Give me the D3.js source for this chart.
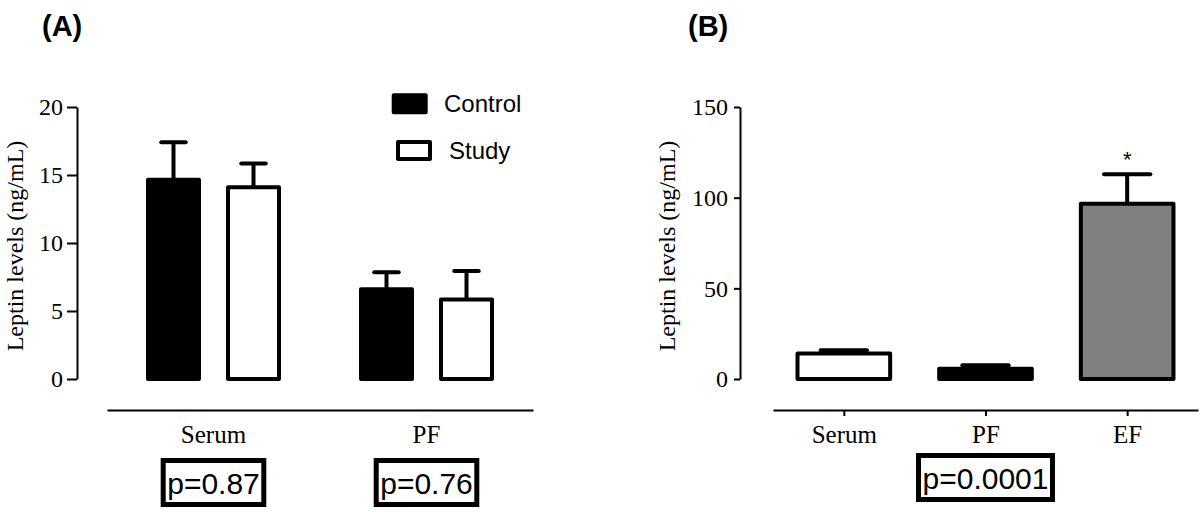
<!DOCTYPE html>
<html>
<head>
<meta charset="utf-8">
<script src="https://cdn.jsdelivr.net/npm/d3@7"></script>
<style>
  html, body { margin: 0; padding: 0; background: #fff; }
  svg { display: block; }
</style>
</head>
<body>
<svg id="chart" width="1200" height="512"></svg>
<script>
// ---------- Data ----------
const groupsA = ["Serum", "PF"];
const seriesA = ["Control", "Study"];
const controlA = [14.65, 6.6];
const studyA = [14.1, 5.85];
const controlErrTopA = [17.4, 7.85];
const studyErrTopA = [15.85, 7.95];
const yTicksA = [0, 5, 10, 15, 20];
const pLabelsA = ["p=0.87", "p=0.76"];

const categoriesB = ["Serum", "PF", "EF"];
const valuesB = [14.0, 5.7, 96.7];
const errTopB = [15.8, 7.6, 112.9];
const yTicksB = [0, 50, 100, 150];
const pLabelB = "p=0.0001";
const starLabelsB = ["", "", "*"];

const panelTitles = ["(A)", "(B)"];
const yTitle = "Leptin levels (ng/mL)";

// ---------- Setup ----------
const svg = d3.select("#chart");
const SERIF = "'Liberation Serif', 'Times New Roman', serif";
const SANS = "'Liberation Sans', Arial, sans-serif";
const seriesFill = d3.scaleOrdinal().domain(seriesA).range(["#000", "#fff"]);
const fillB = d3.scaleOrdinal().domain(categoriesB).range(["#fff", "#000", "#808080"]);

function styleAxis(g, size) {
  g.select(".domain").attr("stroke", "#000").attr("stroke-width", 2);
  g.selectAll(".tick line").attr("stroke", "#000").attr("stroke-width", 2);
  g.selectAll(".tick text").attr("fill", "#000").attr("font-family", SERIF).attr("font-size", size);
}

// ---------- Panel titles ----------
svg.append("text").attr("x", 42).attr("y", 36).text(panelTitles[0])
  .attr("font-family", SANS).attr("font-weight", "bold").attr("font-size", 29);
svg.append("text").attr("x", 688).attr("y", 36).text(panelTitles[1])
  .attr("font-family", SANS).attr("font-weight", "bold").attr("font-size", 29);

// ---------- Panel A ----------
const yA = d3.scaleLinear().domain([0, 20]).range([379, 107]);
const x0A = d3.scaleBand().domain(groupsA).range([107, 533]).padding(0);
const x1A = d3.scaleBand().domain(seriesA).range([-80, 80]).paddingInner(0.3625).paddingOuter(0.18125);

const gA = svg.append("g");
gA.append("g").attr("transform", "translate(77,0)")
  .call(d3.axisLeft(yA).tickValues(yTicksA).tickSize(10).tickPadding(4).tickSizeOuter(0))
  .call(g => styleAxis(g, 24));
gA.append("g").attr("transform", "translate(0,410)")
  .call(d3.axisBottom(x0A).tickSize(0).tickPadding(15))
  .call(g => styleAxis(g, 25));

gA.append("text").attr("transform", "translate(23,246) rotate(-90)")
  .attr("text-anchor", "middle").attr("font-family", SERIF).attr("font-size", 24).text(yTitle);

const barsA = [];
groupsA.forEach((grp, i) => {
  barsA.push({ grp, s: "Control", v: controlA[i], e: controlErrTopA[i] });
  barsA.push({ grp, s: "Study", v: studyA[i], e: studyErrTopA[i] });
});
const bwA = x1A.bandwidth();
barsA.forEach(d => {
  const cx = x0A(d.grp) + x0A.bandwidth() / 2 + x1A(d.s) + bwA / 2;
  const capHalf = bwA * 0.24;
  gA.append("line").attr("x1", cx).attr("x2", cx).attr("y1", yA(d.v)).attr("y2", yA(d.e))
    .attr("stroke", "#000").attr("stroke-width", 4);
  gA.append("line").attr("x1", cx - capHalf).attr("x2", cx + capHalf).attr("y1", yA(d.e)).attr("y2", yA(d.e))
    .attr("stroke", "#000").attr("stroke-width", 4).attr("stroke-linecap", "round");
  gA.append("rect").attr("x", cx - bwA / 2).attr("y", yA(d.v)).attr("width", bwA).attr("height", yA(0) - yA(d.v))
    .attr("fill", seriesFill(d.s)).attr("stroke", "#000").attr("stroke-width", 4).attr("stroke-linejoin", "round");
});

// Legend
const legendA = [
  { s: "Control", rx: 393.7, ry: 95.3, tx: 444, ty: 112 },
  { s: "Study", rx: 398, ry: 142, tx: 449, ty: 159 }
];
legendA.forEach(d => {
  gA.append("rect").attr("x", d.rx).attr("y", d.ry).attr("width", 32).attr("height", 17)
    .attr("fill", seriesFill(d.s)).attr("stroke", "#000").attr("stroke-width", 4).attr("stroke-linejoin", "round");
  gA.append("text").attr("x", d.tx).attr("y", d.ty).text(d.s)
    .attr("font-family", SANS).attr("font-size", 24);
});

// p-value boxes
function pBox(parent, cx, baseline, label) {
  const g = parent.append("g");
  const r = g.append("rect");
  const t = g.append("text").attr("x", cx).attr("y", baseline).attr("text-anchor", "middle")
    .attr("font-family", SANS).attr("font-size", 30).text(label);
  const bb = t.node().getBBox();
  r.attr("x", bb.x - 4).attr("y", baseline - 33).attr("width", bb.width + 8).attr("height", 44)
    .attr("fill", "none").attr("stroke", "#000").attr("stroke-width", 5);
}
groupsA.forEach((grp, i) => {
  pBox(gA, x0A(grp) + x0A.bandwidth() / 2, 493.5, pLabelsA[i]);
});

// ---------- Panel B ----------
const yB = d3.scaleLinear().domain([0, 150]).range([379, 107]);
const xB = d3.scaleBand().domain(categoriesB).range([773, 1198]).paddingInner(0.346).paddingOuter(0.173);

const gB = svg.append("g");
gB.append("g").attr("transform", "translate(740,0)")
  .call(d3.axisLeft(yB).tickValues(yTicksB).tickSize(6).tickPadding(6).tickSizeOuter(0))
  .call(g => styleAxis(g, 24));
gB.append("g").attr("transform", "translate(0,410)")
  .call(d3.axisBottom(d3.scalePoint().domain(categoriesB).range([773, 1198]).padding(0.5)).tickSize(6).tickPadding(9).tickSizeOuter(0))
  .call(g => styleAxis(g, 25));

gB.append("text").attr("transform", "translate(675,246) rotate(-90)")
  .attr("text-anchor", "middle").attr("font-family", SERIF).attr("font-size", 24).text(yTitle);

const bwB = xB.bandwidth();
categoriesB.forEach((c, i) => {
  const cx = xB(c) + bwB / 2;
  const capHalf = bwB * 0.25;
  gB.append("line").attr("x1", cx).attr("x2", cx).attr("y1", yB(valuesB[i])).attr("y2", yB(errTopB[i]))
    .attr("stroke", "#000").attr("stroke-width", 4);
  gB.append("line").attr("x1", cx - capHalf).attr("x2", cx + capHalf).attr("y1", yB(errTopB[i])).attr("y2", yB(errTopB[i]))
    .attr("stroke", "#000").attr("stroke-width", 4).attr("stroke-linecap", "round");
  gB.append("rect").attr("x", cx - bwB / 2).attr("y", yB(valuesB[i])).attr("width", bwB).attr("height", yB(0) - yB(valuesB[i]))
    .attr("fill", fillB(c)).attr("stroke", "#000").attr("stroke-width", 4).attr("stroke-linejoin", "round");
  if (starLabelsB[i]) {
    gB.append("text").attr("x", cx).attr("y", yB(errTopB[i]) - 7).attr("text-anchor", "middle")
      .attr("font-family", SANS).attr("font-size", 22).text(starLabelsB[i]);
  }
});

pBox(gB, xB("PF") + bwB / 2, 488.5, pLabelB);
</script>
</body>
</html>
